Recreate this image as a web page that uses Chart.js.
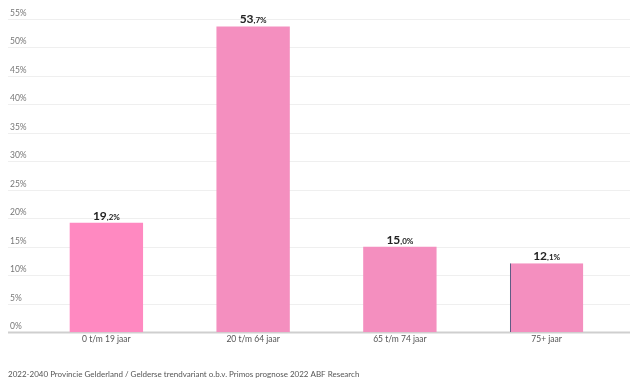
<!DOCTYPE html>
<html><head><meta charset="utf-8">
<script src="https://cdn.jsdelivr.net/npm/chart.js@4/dist/chart.umd.min.js"></script>
<style>html,body{margin:0;padding:0;background:#fff}#wrap{width:635px;height:381px}</style>
</head><body><div id="wrap"><canvas id="c"></canvas></div>
<script>
const categories = ["0 t/m 19 jaar", "20 t/m 64 jaar", "65 t/m 74 jaar", "75+ jaar"];
const values = [19.2, 53.7, 15.0, 12.1];
const yTicks = [0, 5, 10, 15, 20, 25, 30, 35, 40, 45, 50, 55];
const barColors = ["#ff89c1", "#f48fbf", "#f48fbf", "#f48fbf"];
const footer = "2022-2040 Provincie Gelderland / Gelderse trendvariant o.b.v. Primos prognose 2022 ABF Research";
const FONT = "Lato, 'Noto Sans', sans-serif";

const gridPlugin = {
  id: 'gridPlugin',
  beforeDatasetsDraw(chart) {
    const ctx = chart.ctx, y = chart.scales.y;
    ctx.save();
    ctx.font = "8.5px " + FONT;
    ctx.fillStyle = "#777";
    ctx.textAlign = "left";
    ctx.textBaseline = "bottom";
    yTicks.forEach(t => {
      const py = Math.round(y.getPixelForValue(t)) + 0.5;
      ctx.strokeStyle = t === 0 ? "#cfcfcf" : "#efefef";
      ctx.lineWidth = t === 0 ? 2 : 1;
      ctx.beginPath(); ctx.moveTo(8, py); ctx.lineTo(630, py); ctx.stroke();
      ctx.fillText(t + "%", 10, py - 2);
    });
    ctx.restore();
  },
  afterDatasetsDraw(chart) {
    const ctx = chart.ctx;
    const meta = chart.getDatasetMeta(0);
    ctx.save();
    ctx.fillStyle = "#222";
    ctx.textBaseline = "alphabetic";
    meta.data.forEach((bar, i) => {
      const v = values[i];
      const parts = v.toFixed(1).split(".");
      const big = parts[0], small = "," + parts[1] + "%";
      ctx.font = "bold 12px " + FONT;
      const w1 = ctx.measureText(big).width;
      ctx.font = "bold 8px " + FONT;
      const w2 = ctx.measureText(small).width;
      const x0 = bar.x - (w1 + w2) / 2;
      const by = bar.y - 3;
      ctx.font = "bold 12px " + FONT;
      ctx.textAlign = "left";
      ctx.fillText(big, x0, by);
      ctx.font = "bold 8px " + FONT;
      ctx.fillText(small, x0 + w1, by);
    });
    ctx.restore();
  }
};

new Chart(document.getElementById('c'), {
  type: 'bar',
  data: {
    labels: categories,
    datasets: [{
      data: values,
      backgroundColor: barColors,
      borderColor: ["#ff89c1", "#f48fbf", "#f48fbf", "#4a4f7a"],
      borderWidth: [0, 0, 0, {left: 1, top: 0, right: 0, bottom: 0}],
      borderSkipped: false,
      categoryPercentage: 0.5,
      barPercentage: 1.0
    }]
  },
  options: {
    responsive: true,
    maintainAspectRatio: false,
    animation: false,
    layout: { padding: { left: 8, right: 15, top: 19, bottom: 2 } },
    plugins: {
      legend: { display: false },
      tooltip: { enabled: false },
      subtitle: {
        display: true,
        text: footer,
        position: 'bottom',
        align: 'start',
        color: "#555",
        font: { family: FONT, size: 8 },
        padding: { top: 23, bottom: 0 }
      }
    },
    scales: {
      x: {
        grid: { display: false, drawTicks: false },
        border: { display: false },
        ticks: { color: "#555", font: { family: FONT, size: 8.5 }, padding: 2, maxRotation: 0 }
      },
      y: {
        min: 0, max: 55,
        afterFit(s) { s.width = 25; },
        grid: { display: false },
        border: { display: false },
        ticks: { display: false, stepSize: 5 }
      }
    }
  },
  plugins: [gridPlugin]
});
</script></body></html>
